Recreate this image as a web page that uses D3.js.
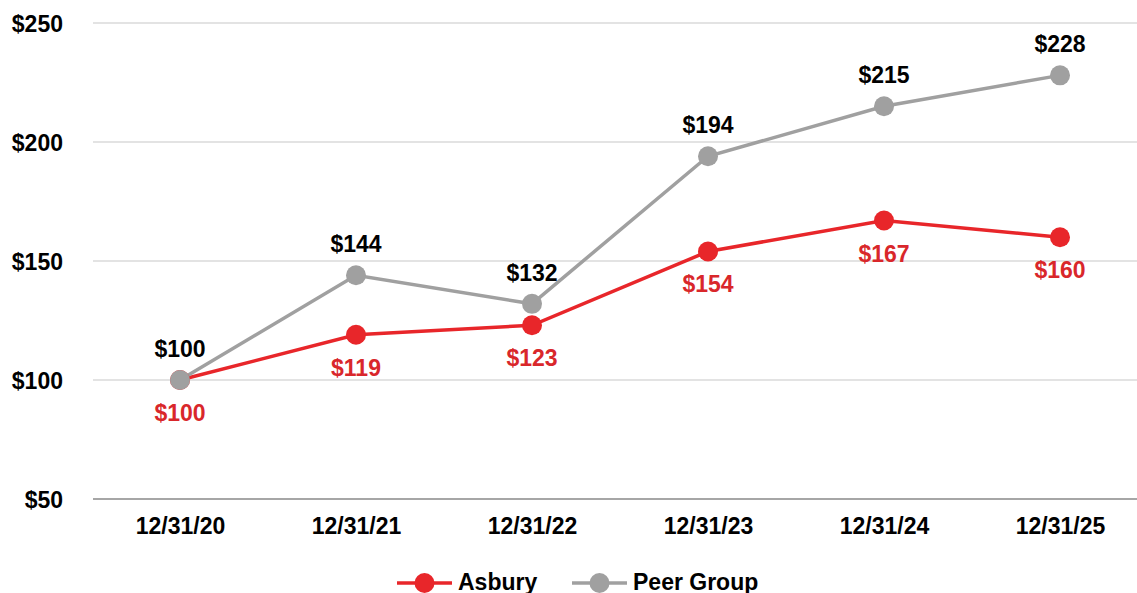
<!DOCTYPE html>
<html><head><meta charset="utf-8">
<script src="https://cdn.jsdelivr.net/npm/d3@7"></script>
<style>body{margin:0;background:#fff}svg{display:block;font-family:"Liberation Sans",Arial,sans-serif;font-weight:bold}</style>
</head><body><svg id="c" width="1137" height="593"></svg>
<script>
const categories = ["12/31/20","12/31/21","12/31/22","12/31/23","12/31/24","12/31/25"];
const asbury = [100,119,123,154,167,160];
const peer = [100,144,132,194,215,228];
const yTicks = [50,100,150,200,250];
const seriesNames = ["Asbury","Peer Group"];
const colors = ["#e8262a","#a0a0a0"];
const FS = 23;

const svg = d3.select("#c");
const x = d3.scalePoint().domain(categories).range([180,1060]);
const y = d3.scaleLinear().domain([50,250]).range([499,23]);

// gridlines
svg.append("g").selectAll("line").data(yTicks.filter(d=>d>50)).join("line")
  .attr("x1",93).attr("x2",1137).attr("y1",d=>y(d)).attr("y2",d=>y(d))
  .attr("stroke","#e3e3e3").attr("stroke-width",2);
svg.append("line").attr("x1",93).attr("x2",1137).attr("y1",y(50)).attr("y2",y(50))
  .attr("stroke","#a6a6a6").attr("stroke-width",2);

// y axis labels
const yAxis = d3.axisLeft(y).tickValues(yTicks).tickFormat(d=>"$"+d).tickSize(0).tickPadding(0);
const ya = svg.append("g").attr("transform","translate(63,0)").call(yAxis);
ya.select(".domain").remove();
ya.selectAll("text").attr("font-size",FS).attr("fill","#000").attr("font-family","Liberation Sans, Arial").attr("font-weight","bold").attr("dy","0.35em");

// x axis labels
const xAxis = d3.axisBottom(x).tickSize(0).tickPadding(0);
const xa = svg.append("g").attr("transform","translate(0,518)").call(xAxis);
xa.select(".domain").remove();
xa.selectAll("text").attr("font-size",FS).attr("fill","#000").attr("font-family","Liberation Sans, Arial").attr("font-weight","bold");

const data = [asbury, peer];
const line = d3.line().x((d,i)=>x(categories[i])).y(d=>y(d));
[0,1].forEach(k=>{
  svg.append("path").datum(data[k]).attr("d",line).attr("fill","none")
    .attr("stroke",colors[k]).attr("stroke-width",3.5);
});
[0,1].forEach(k=>{
  svg.append("g").selectAll("circle").data(data[k]).join("circle")
    .attr("cx",(d,i)=>x(categories[i])).attr("cy",d=>y(d)).attr("r",10).attr("fill",colors[k]);
});
// labels
svg.append("g").selectAll("text").data(peer).join("text")
  .attr("x",(d,i)=>x(categories[i])).attr("y",d=>y(d)-23)
  .attr("text-anchor","middle").attr("font-size",FS).attr("fill","#000").text(d=>"$"+d);
svg.append("g").selectAll("text").data(asbury).join("text")
  .attr("x",(d,i)=>x(categories[i])).attr("y",d=>y(d)+41)
  .attr("text-anchor","middle").attr("font-size",FS).attr("fill","#d9272b").text(d=>"$"+d);

// legend
const leg = [{x0:397,tx:458},{x0:572,tx:633}];
leg.forEach((l,k)=>{
  const g = svg.append("g");
  g.append("line").attr("x1",l.x0).attr("x2",l.x0+55).attr("y1",583).attr("y2",583).attr("stroke",colors[k]).attr("stroke-width",3.5);
  g.append("circle").attr("cx",l.x0+27.5).attr("cy",583).attr("r",10).attr("fill",colors[k]);
  g.append("text").attr("x",l.tx).attr("y",590).attr("font-size",FS).attr("fill","#000").text(seriesNames[k]);
});
</script></body></html>
